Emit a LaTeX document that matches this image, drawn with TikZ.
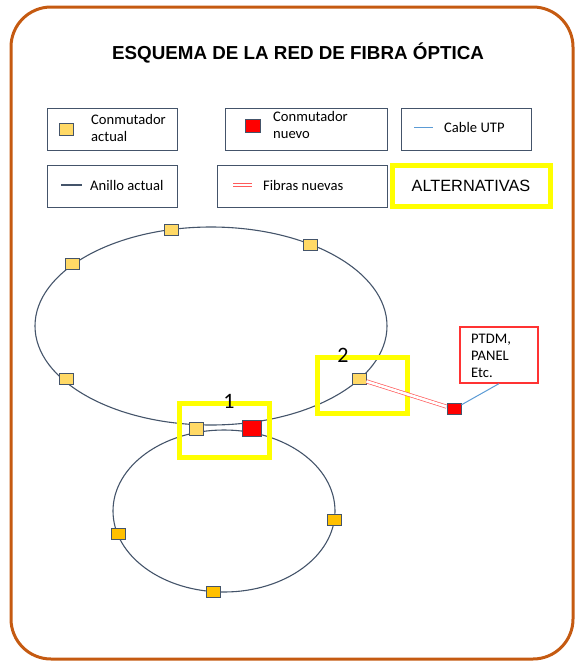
\documentclass[tikz,border=0pt]{standalone}
\usepackage{fontspec}
\setmainfont{Carlito}
\newfontfamily\arialf{Liberation Sans}
\definecolor{slate}{HTML}{44546A}
\definecolor{borderor}{HTML}{C55A11}
\definecolor{swY}{HTML}{FFD966}
\definecolor{swO}{HTML}{FFC000}
\definecolor{hiY}{HTML}{FFFF00}
\definecolor{utp}{HTML}{5B9BD5}
\definecolor{fib}{HTML}{FF5B5B}
\begin{document}
\begin{tikzpicture}[x=1pt,y=-1pt,
  sw/.style={draw=slate, line width=0.9pt, fill=swY, minimum width=14pt, minimum height=11pt, inner sep=0pt},
  swl/.style={sw, fill=swO},
  swr/.style={sw, fill=red},
  legbox/.style={draw=slate, line width=0.8pt, minimum height=42pt, inner sep=0pt},
  alt/.style={draw=hiY, line width=5pt, inner sep=0pt},
  ring/.style={draw=slate, line width=1.1pt},
  legtxt/.style={font=\fontsize{14.6}{16.5}\selectfont, align=left, anchor=west, inner sep=0pt},
  fiber/.style={draw=fib, double=white, double distance=2.6pt, line width=0.7pt},
  utpline/.style={draw=utp, line width=1pt},
  num/.style={font=\fontsize{22}{22}\selectfont, inner sep=0pt}]
\useasboundingbox (0,0) rectangle (574,662);
\draw[borderor, line width=3pt, rounded corners=40pt] (11,7) rectangle (573,659);
\node[font=\arialf\bfseries\fontsize{18.8}{20}\selectfont] (title) at (298,53) {ESQUEMA DE LA RED DE FIBRA ÓPTICA};
% legend row 1
\node[legbox, minimum width=130pt] (lA) at (112,129) {};
\node[sw, minimum width=14pt, minimum height=12pt] (lAs) at (66,129) {};
\node[legtxt] (lAt) at (91,128) {Conmutador\\actual};
\node[legbox, minimum width=162pt] (lB) at (306,129) {};
\node[swr, minimum width=15pt, minimum height=13pt] (lBs) at (253,126) {};
\node[legtxt] (lBt) at (273,125) {Conmutador\\nuevo};
\node[legbox, minimum width=130pt] (lC) at (466,129) {};
\coordinate (lCa) at (414,127);
\coordinate (lCb) at (433,127);
\draw[utpline] (lCa) -- (lCb);
\node[legtxt] (lCt) at (444,127) {Cable UTP};
% legend row 2
\node[legbox, minimum width=130pt] (lD) at (112,186) {};
\coordinate (lDa) at (61,185);
\coordinate (lDb) at (82,185);
\draw[slate, line width=1.2pt] (lDa) -- (lDb);
\node[legtxt] (lDt) at (90,185) {Anillo actual};
\node[legbox, minimum width=170pt] (lE) at (302,186) {};
\coordinate (lEa) at (233,185);
\coordinate (lEb) at (252,185);
\draw[fiber] (lEa) -- (lEb);
\node[legtxt] (lEt) at (263,185) {Fibras nuevas};
\node[alt, minimum width=158pt, minimum height=41pt, font=\arialf\fontsize{16.3}{18}\selectfont] (lF) at (471,186) {ALTERNATIVAS};
% rings
\draw[ring] (211,326) ellipse [x radius=176pt, y radius=99pt];
\draw[ring] (224,511) ellipse [x radius=111pt, y radius=81pt];
% alternatives boxes
\node[alt, minimum width=90pt, minimum height=54pt] (a1) at (224,430) {};
\node[alt, minimum width=90pt, minimum height=56pt] (a2) at (362,385) {};
\node[num] (n1) at (229,401) {1};
\node[num] (n2) at (343,355) {2};
% fiber and UTP
\node[draw=red!80, line width=1.3pt, minimum width=78pt, minimum height=56pt] (ptdm) at (499,355) {};
\node[legtxt, anchor=north west, font=\fontsize{14.6}{17}\selectfont] (ptdmt) at (471,334) {PTDM,\\PANEL\\Etc.};
\node[sw] (s6) at (359,379) {};
\node[swr] (r2) at (454,409) {};
\draw[fiber] (s6) -- (r2);
\draw[utpline] (r2) -- (ptdm.south);
% upper ring switches
\node[sw] (s1) at (171,230) {};
\node[sw] (s2) at (72,264) {};
\node[sw] (s3) at (310,245) {};
\node[sw] (s4) at (66,379) {};
\node[sw, minimum width=14pt, minimum height=13pt] (s5) at (196,429) {};
\node[swr, minimum width=19pt, minimum height=16pt] (r1) at (252,428) {};
% lower ring switches
\node[swl] (t1) at (118,534) {};
\node[swl] (t2) at (334,520) {};
\node[swl] (t3) at (213,592) {};
\end{tikzpicture}
\end{document}
